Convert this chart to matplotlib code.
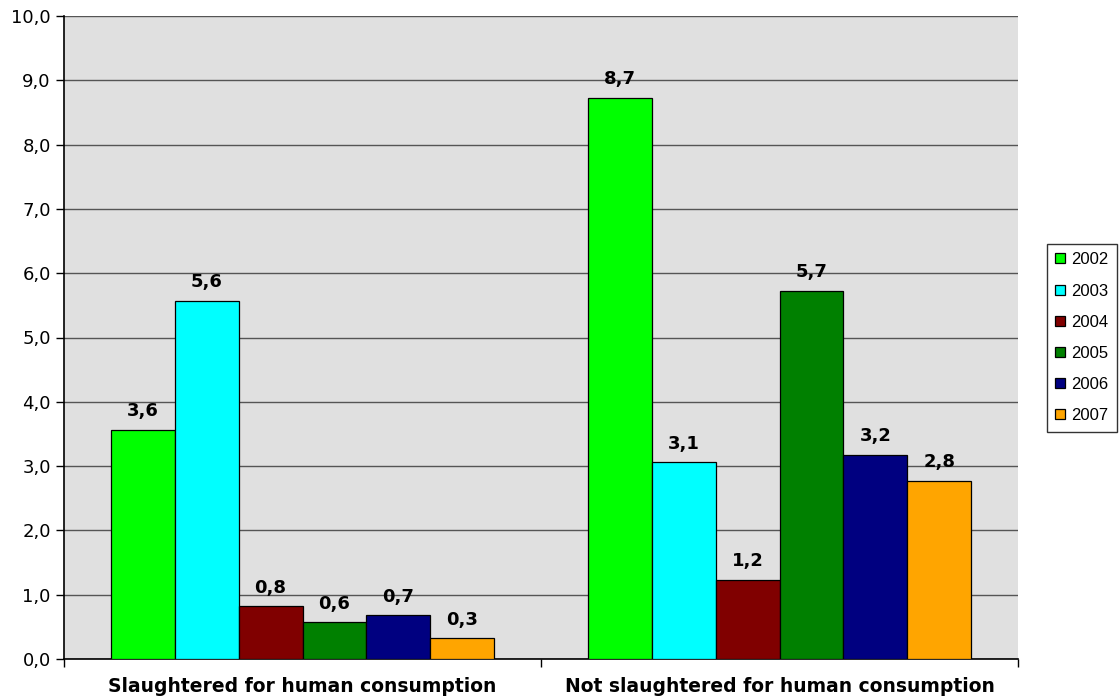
import matplotlib
matplotlib.use('Agg')
import matplotlib.pyplot as plt
from matplotlib.ticker import FixedLocator
import numpy as np

categories = ["Slaughtered for human consumption", "Not slaughtered for human consumption"]
years = ["2002", "2003", "2004", "2005", "2006", "2007"]
values = {
    "2002": [3.56, 8.73],
    "2003": [5.57, 3.06],
    "2004": [0.82, 1.23],
    "2005": [0.57, 5.72],
    "2006": [0.68, 3.17],
    "2007": [0.32, 2.77],
}
colors = ["#00FF00", "#00FFFF", "#800000", "#008000", "#000080", "#FFA500"]

fig = plt.figure(figsize=(11.2, 6.98), dpi=100)
ax = fig.add_axes([64 / 1120, 39 / 698, 954 / 1120, 643 / 698])
ax.set_facecolor("#E0E0E0")

x = np.arange(len(categories))
width = 0.134
for i, year in enumerate(years):
    pos = x - 2.5 * width + i * width
    bars = ax.bar(pos, values[year], width, color=colors[i], edgecolor="black",
                  linewidth=0.9, label=year, zorder=3)
    for b, v in zip(bars, values[year]):
        ax.annotate(("%.1f" % v).replace(".", ","),
                    (b.get_x() + b.get_width() / 2, b.get_height()),
                    xytext=(0, 7), textcoords="offset points", ha="center", va="bottom",
                    fontsize=13, fontweight="bold", zorder=4)

ax.set_ylim(0, 10)
ax.set_xlim(-0.5, 1.5)
yt = np.arange(0, 11, 1)
ax.yaxis.set_major_locator(FixedLocator(yt))
ax.set_yticklabels([("%.1f" % t).replace(".", ",") for t in yt])
ax.grid(axis="y", color="#555555", linewidth=1, zorder=0)
ax.tick_params(axis="y", labelsize=13, length=6, width=1)

ax.set_xticks(x)
ax.set_xticklabels(categories, fontsize=13.5, fontweight="bold")
ax.tick_params(axis="x", length=0, pad=13)
ax.set_xticks([-0.5, 0.5, 1.5], minor=True)
ax.tick_params(axis="x", which="minor", length=6, width=1)

for s in ["top", "right"]:
    ax.spines[s].set_visible(False)
ax.spines["left"].set_linewidth(1.2)
ax.spines["bottom"].set_linewidth(1.2)

fig.legend(loc="upper left", bbox_to_anchor=(1047 / 1120, 1 - 244 / 698),
           prop={"family": "Liberation Sans", "size": 12}, frameon=True,
           fancybox=False, edgecolor="black", handlelength=0.55, handleheight=0.55,
           handletextpad=0.4, labelspacing=0.97, borderpad=0.5, borderaxespad=0)

plt.savefig("out.png", dpi=100)
plt.close()
